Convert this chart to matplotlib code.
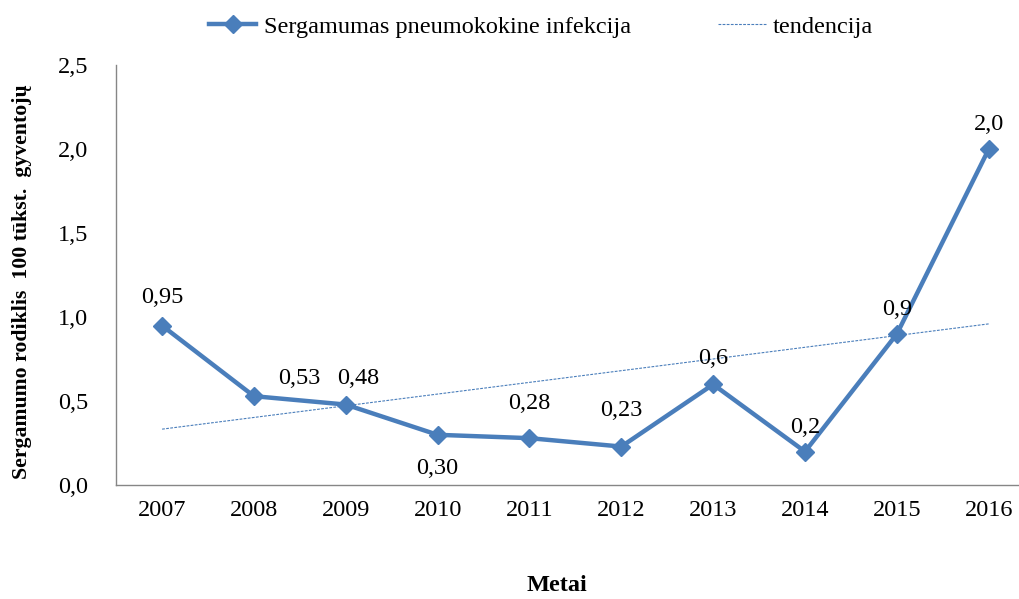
import numpy as np
import matplotlib

matplotlib.use("Agg")
import matplotlib.pyplot as plt

plt.rcParams["font.family"] = ["Liberation Serif", "DejaVu Serif"]

years = ["2007", "2008", "2009", "2010", "2011", "2012", "2013", "2014", "2015", "2016"]
values = [0.95, 0.53, 0.48, 0.30, 0.28, 0.23, 0.6, 0.2, 0.9, 2.0]
labels = ["0,95", "0,53", "0,48", "0,30", "0,28", "0,23", "0,6", "0,2", "0,9", "2,0"]
# label offsets in points (dx, dy) relative to each point
offsets = [(0, 20), (33, 13), (9, 19), (0, -24), (0, 25), (0, 26), (0, 19), (0, 17), (0, 18), (0, 18)]

BLUE = "#4a7ebb"
FS = 17.5

fig = plt.figure(figsize=(10.19, 5.99), dpi=100)
ax = fig.add_axes([0.114, 0.190, 0.886, 0.701])

x = np.arange(len(years))
ax.plot(x, values, color=BLUE, lw=3.2, marker="D", ms=9.5, label="Sergamumas pneumokokine infekcija")

# linear trend of the series
k, b = np.polyfit(x, values, 1)
ax.plot(x, k * x + b, color=BLUE, lw=0.8, ls=(0, (2.5, 1.2)), label="tendencija")

for xi, v, t, (dx, dy) in zip(x, values, labels, offsets):
    ax.annotate(t, (xi, v), xytext=(dx, dy), textcoords="offset points",
                ha="center", va="center", fontsize=FS)

ax.set_xlim(-0.5, 9.33)
ax.set_ylim(0, 2.5)
ax.set_xticks(x)
ax.set_xticklabels(years, fontsize=FS)
ax.set_yticks(np.arange(0, 2.51, 0.5))
ax.set_yticklabels([f"{v:.1f}".replace(".", ",") for v in np.arange(0, 2.51, 0.5)], fontsize=FS)
ax.tick_params(length=0, pad=11)
ax.tick_params(axis="y", pad=20)
for s in ("top", "right"):
    ax.spines[s].set_visible(False)
for s in ("left", "bottom"):
    ax.spines[s].set_color("#868686")
    ax.spines[s].set_linewidth(1.0)

fig.text(0.022, 0.53, "Sergamumo rodiklis  100 tūkst.  gyventojų", rotation=90,
         ha="center", va="center", fontsize=15.7, fontweight="bold")
fig.text(0.547, 0.022, "Metai", ha="center", va="center", fontsize=FS, fontweight="bold")

fig.legend(loc="center", bbox_to_anchor=(0.531, 0.955), ncol=2, frameon=False,
           fontsize=FS, handlelength=1.95, handletextpad=0.3, columnspacing=3.6)

fig.savefig("out.png", dpi=100)
